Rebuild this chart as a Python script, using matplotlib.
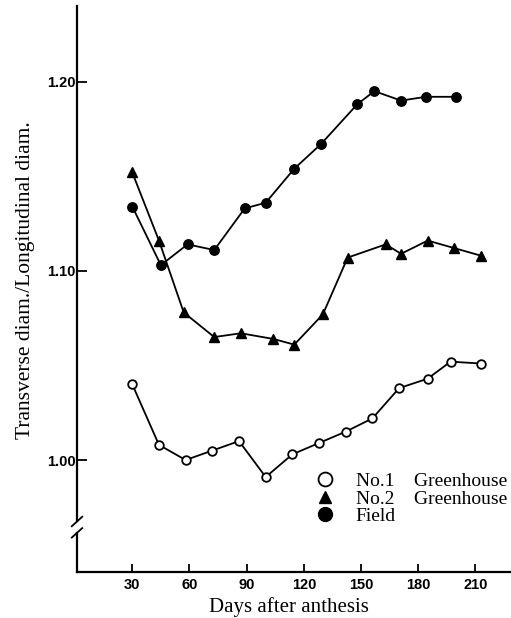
import matplotlib
matplotlib.use("Agg")
import matplotlib.pyplot as plt
from matplotlib.lines import Line2D

# Days after anthesis for each sampling and shape index (transverse / longitudinal diameter)
days_no1 = [30, 44, 58, 72, 86, 100, 114, 128, 142, 156, 170, 185, 197, 213]
ratio_no1 = [1.040, 1.008, 1.000, 1.005, 1.010, 0.991, 1.003, 1.009, 1.015, 1.022,
             1.038, 1.043, 1.052, 1.051]

days_no2 = [30, 44, 57, 73, 87, 104, 115, 130, 143, 163, 171, 185, 199, 213]
ratio_no2 = [1.152, 1.116, 1.078, 1.065, 1.067, 1.064, 1.061, 1.077, 1.107, 1.114,
             1.109, 1.116, 1.112, 1.108]

days_field = [30, 45, 59, 73, 89, 100, 115, 129, 148, 157, 171, 184, 200]
ratio_field = [1.134, 1.103, 1.114, 1.111, 1.133, 1.136, 1.154, 1.167, 1.188, 1.195,
               1.190, 1.192, 1.192]

x_ticks = [30, 60, 90, 120, 150, 180, 210]
y_ticks = [1.00, 1.10, 1.20]
y_tick_labels = ["1.00", "1.10", "1.20"]
legend_labels = ["No.1    Greenhouse", "No.2    Greenhouse", "Field"]

W, H = 511, 618
fig = plt.figure(figsize=(W / 100, H / 100), dpi=100)
left, right, top, bottom = 77, 511, 6, 572
ax = fig.add_axes([left / W, 1 - bottom / H, (right - left) / W, (bottom - top) / H])

serif = "Liberation Serif"
sans = "Liberation Sans"
lw = 1.3

ax.plot(days_no1, ratio_no1, color="black", lw=lw, marker="o", ms=6.2,
        mfc="white", mec="black", mew=1.3, zorder=3)
ax.plot(days_no2, ratio_no2, color="black", lw=lw, marker="^", ms=7.2,
        mfc="black", mec="black", zorder=3)
ax.plot(days_field, ratio_field, color="black", lw=lw, marker="o", ms=6.8,
        mfc="black", mec="black", zorder=3)

ax.set_xlim(1.0, 228.7)
ax.set_ylim(0.9408, 1.240)

for s in ["top", "right", "left"]:
    ax.spines[s].set_visible(False)
ax.spines["bottom"].set_linewidth(1.6)

# broken y axis drawn by hand
yt = ax.get_yaxis_transform()
brk_hi, brk_lo = 0.9675, 0.9615
ax.plot([0, 0], [brk_hi, 1.240], transform=yt, color="black", lw=1.6, clip_on=False)
ax.plot([0, 0], [0.9408, brk_lo], transform=yt, color="black", lw=1.6, clip_on=False)
for yc in (brk_hi, brk_lo):
    ax.plot([-0.012, 0.012], [yc - 0.0025, yc + 0.0025], transform=yt,
            color="black", lw=1.3, clip_on=False)

ax.set_xticks(x_ticks)
ax.set_xticklabels([str(t) for t in x_ticks], fontfamily=sans, fontweight="bold", fontsize=10.5)
ax.set_yticks(y_ticks)
ax.set_yticklabels(y_tick_labels, fontfamily=sans, fontweight="bold", fontsize=10.5)
ax.tick_params(axis="x", direction="in", length=6, width=1.3, pad=4)
ax.tick_params(axis="y", direction="in", length=7, width=1.3, pad=1)

ax.set_xlabel("Days after anthesis", fontfamily=serif, fontsize=15, labelpad=3)
ax.xaxis.set_label_coords(0.488, -0.045)
ax.set_ylabel("Transverse diam./Longitudinal diam.", fontfamily=serif, fontsize=15.5)
ax.yaxis.set_label_coords(-0.097, 0.516)

handles = [
    Line2D([], [], ls="none", marker="o", ms=10, mfc="white", mec="black", mew=1.3),
    Line2D([], [], ls="none", marker="^", ms=9, mfc="black", mec="black"),
    Line2D([], [], ls="none", marker="o", ms=10, mfc="black", mec="black"),
]
leg = ax.legend(handles, legend_labels, loc="upper left", bbox_to_anchor=(0.548, 0.176),
                frameon=False, handlelength=1.0, handletextpad=1.1, labelspacing=0.0,
                borderpad=0, borderaxespad=0,
                prop={"family": serif, "size": 14})

fig.savefig("out.png", dpi=100)
